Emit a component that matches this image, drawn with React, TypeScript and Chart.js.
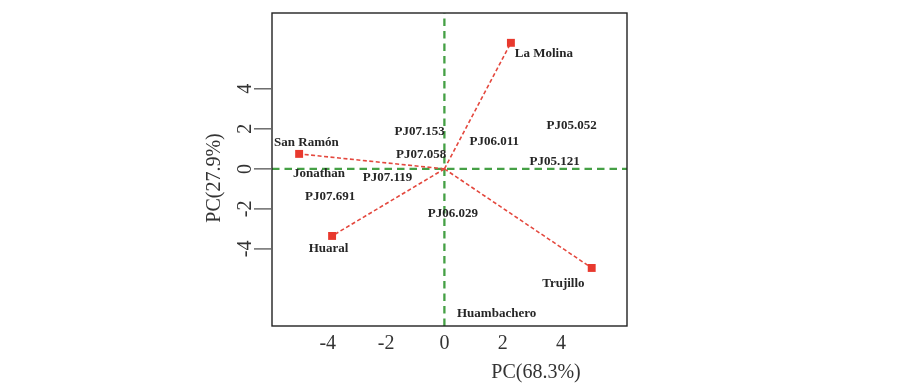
import React, { useEffect, useRef } from "react";
import { Chart, registerables } from "chart.js";

Chart.register(...registerables);

// Tick values shared by both axes
const tickValues = [-4, -2, 0, 2, 4];

// Axis titles
const xTitle = "PC(68.3%)";
const yTitle = "PC(27.9%)";

// Location vectors (red squares)
const siteNames = ["La Molina", "San Ramón", "Huaral", "Trujillo"];
const siteX = [2.28, -4.98, -3.85, 5.05];
const siteY = [6.3, 0.75, -3.35, -4.95];

// Text labels (centres, in data units)
const labelNames = [
  "La Molina",
  "San Ramón",
  "Jonathan",
  "PJ07.153",
  "PJ06.011",
  "PJ07.058",
  "PJ07.119",
  "PJ05.052",
  "PJ05.121",
  "PJ07.691",
  "PJ06.029",
  "Huaral",
  "Trujillo",
  "Huambachero",
];
const labelX = [3.41, -4.73, -4.3, -0.85, 1.71, -0.8, -1.95, 4.36, 3.78, -3.92, 0.29, -3.97, 4.08, 1.79];
const labelY = [5.75, 1.3, -0.25, 1.87, 1.37, 0.7, -0.42, 2.15, 0.37, -1.38, -2.25, -3.97, -5.72, -7.22];

// Axis ranges
const xRange = [-5.91, 6.26];
const yRange = [-7.85, 7.79];

const RED = "#e8392e";
const GREEN = "#45a045";

export default function App() {
  const canvasRef = useRef<HTMLCanvasElement | null>(null);

  useEffect(() => {
    const canvas = canvasRef.current;
    if (!canvas) return;

    const redSets = siteNames.map((name, i) => ({
      label: name,
      data: [
        { x: 0, y: 0 },
        { x: siteX[i], y: siteY[i] },
      ],
      showLine: true,
      borderColor: "#e4483e",
      borderWidth: 1.6,
      borderDash: [4, 2.5],
      pointRadius: [0, 5.6],
      pointStyle: "rect",
      pointBackgroundColor: RED,
      pointBorderWidth: 0,
      order: 1,
    }));

    const greenSets = [
      {
        label: "h",
        data: [
          { x: xRange[0], y: 0 },
          { x: xRange[1], y: 0 },
        ],
      },
      {
        label: "v",
        data: [
          { x: 0, y: yRange[0] },
          { x: 0, y: yRange[1] },
        ],
      },
    ].map((d) => ({
      ...d,
      showLine: true,
      borderColor: GREEN,
      borderWidth: 2.3,
      borderDash: [7.5, 5],
      pointRadius: 0,
      order: 2,
    }));

    const overlay = {
      id: "overlay",
      afterDatasetsDraw(chart: any) {
        const ctx = chart.ctx;
        const xs = chart.scales.x;
        const ys = chart.scales.y;
        const { left, right, top, bottom } = chart.chartArea;
        ctx.save();
        // box
        ctx.strokeStyle = "#222";
        ctx.lineWidth = 1.4;
        ctx.setLineDash([]);
        ctx.strokeRect(left, top, right - left, bottom - top);

        // labels
        ctx.fillStyle = "#262626";
        ctx.font = 'bold 13px "Liberation Serif"';
        ctx.textAlign = "center";
        ctx.textBaseline = "middle";
        labelNames.forEach((t, i) => {
          ctx.fillText(t, xs.getPixelForValue(labelX[i]), ys.getPixelForValue(labelY[i]));
        });

        // x tick labels
        ctx.fillStyle = "#333";
        ctx.font = '20px "Liberation Serif"';
        ctx.textBaseline = "middle";
        xs.ticks.forEach((tk: any) => {
          ctx.fillText(String(tk.value), xs.getPixelForValue(tk.value), 344);
        });

        // y ticks and rotated labels
        ctx.strokeStyle = "#222";
        ctx.lineWidth = 1;
        ys.ticks.forEach((tk: any) => {
          const py = ys.getPixelForValue(tk.value);
          ctx.beginPath();
          ctx.moveTo(254, py);
          ctx.lineTo(left - 1, py);
          ctx.stroke();
          ctx.save();
          ctx.translate(246, py);
          ctx.rotate(-Math.PI / 2);
          ctx.fillText(String(tk.value), 0, 0);
          ctx.restore();
        });

        // titles
        ctx.font = '20px "Liberation Serif"';
        ctx.fillText(xTitle, 536, 373);
        ctx.save();
        ctx.translate(215, 178);
        ctx.rotate(-Math.PI / 2);
        ctx.fillText(yTitle, 0, 0);
        ctx.restore();
        ctx.restore();
      },
    };

    const chart = new Chart(canvas, {
      type: "scatter",
      data: { datasets: [...redSets, ...greenSets] as any },
      options: {
        animation: false,
        responsive: false,
        devicePixelRatio: 1,
        layout: { padding: { left: 272, right: 273, top: 13, bottom: 62 } },
        plugins: { legend: { display: false }, tooltip: { enabled: false } },
        scales: {
          x: {
            type: "linear",
            display: false,
            min: xRange[0],
            max: xRange[1],
            afterBuildTicks: (s: any) => {
              s.ticks = tickValues.map((v) => ({ value: v }));
            },
          },
          y: {
            type: "linear",
            display: false,
            min: yRange[0],
            max: yRange[1],
            afterBuildTicks: (s: any) => {
              s.ticks = tickValues.map((v) => ({ value: v }));
            },
          },
        },
      },
      plugins: [overlay],
    });

    return () => chart.destroy();
  }, []);

  return (
    <div style={{ position: "absolute", left: 0, top: 0, width: 900, height: 388, background: "#fff" }}>
      <canvas ref={canvasRef} width={900} height={388} style={{ display: "block" }} />
    </div>
  );
}
